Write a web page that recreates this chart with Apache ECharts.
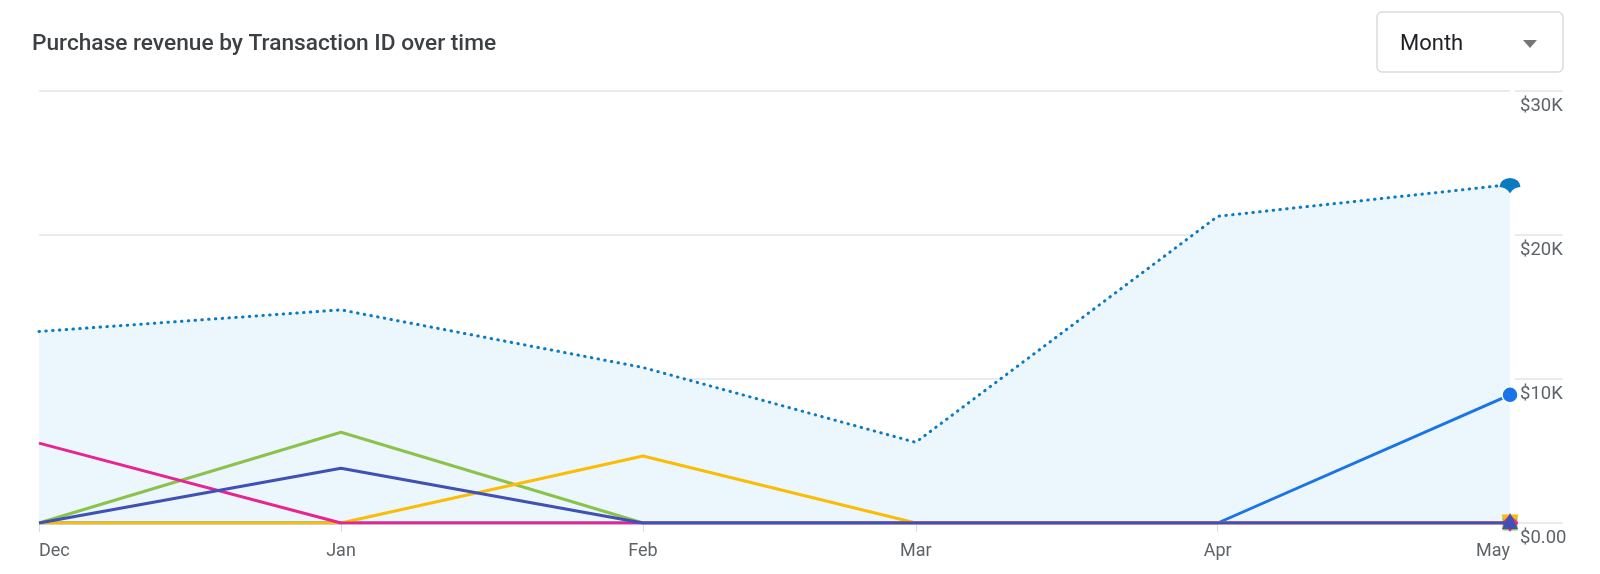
<!DOCTYPE html>
<html>
<head>
<meta charset="utf-8">
<script src="https://cdn.jsdelivr.net/npm/echarts@6/dist/echarts.min.js"></script>
<style>
  html, body { margin: 0; padding: 0; background: #fff; }
  #chart { width: 1600px; height: 574px; }
</style>
</head>
<body>
<div id="chart"></div>
<script>
// ---- data ----
const dates = ['2022-12-01', '2023-01-01', '2023-02-01', '2023-03-01', '2023-04-01', '2023-05-01'];
const monthLabels = ['Dec', 'Jan', 'Feb', 'Mar', 'Apr', 'May'];
const yTickLabels = ['$0.00', '$10K', '$20K', '$30K'];
const totalRevenue = [13300, 14800, 10800, 5600, 21300, 23500];
const txnBlue   = [0, 0, 0, 0, 0, 8900];
const txnGreen  = [0, 6300, 0, 0, 0, 0];
const txnYellow = [0, 0, 4650, 0, 0, 0];
const txnPink   = [5550, 0, 0, 0, 0, 0];
const txnIndigo = [0, 3800, 0, 0, 0, 0];

const chart = echarts.init(document.getElementById('chart'));
const FONT = 'Roboto, "Noto Sans", sans-serif';
const last = dates.length - 1;
const stamps = dates.map(s => Date.parse(s + 'T00:00:00Z'));

function build(values, endSymbol) {
  return values.map((v, i) => {
    const item = { value: [stamps[i], v] };
    if (i === last) Object.assign(item, endSymbol);
    else item.symbol = 'none';
    return item;
  });
}
function lineSeries(name, color, values, endSymbol, z) {
  return {
    name, type: 'line', xAxisIndex: 0, yAxisIndex: 0, z,
    symbol: 'none', showAllSymbol: true,
    lineStyle: { color, width: 3 },
    itemStyle: { color },
    data: build(values, endSymbol)
  };
}

const option = {
  animation: false,
  title: {
    text: 'Purchase revenue by Transaction ID over time',
    left: 32, top: 33, padding: 0,
    textStyle: { fontFamily: FONT, fontSize: 22.7, fontWeight: 500, color: '#3c4043' }
  },
  grid: [
    { left: 39, right: 90, top: 91, bottom: 51 },
    { left: 1515, right: 37, top: 91, bottom: 51 }
  ],
  xAxis: [
    {
      type: 'value', gridIndex: 0,
      min: stamps[0], max: stamps[last],
      axisLine: { show: false },
      axisTick: { show: true, length: 9, lineStyle: { color: '#dadce0', width: 1 }, customValues: stamps },
      splitLine: { show: false },
      axisLabel: {
        customValues: stamps,
        formatter: (val) => {
          const idx = stamps.indexOf(val);
          return idx >= 0 ? monthLabels[idx] : '';
        },
        fontFamily: FONT, fontSize: 18, color: '#5f6368', margin: 19,
        alignMinLabel: 'left', alignMaxLabel: 'right',
        showMinLabel: true, showMaxLabel: true
      }
    },
    { type: 'value', gridIndex: 1, show: false, min: 0, max: 1 }
  ],
  yAxis: [
    {
      type: 'value', gridIndex: 0, min: 0, max: 30000, interval: 10000,
      axisLine: { show: false }, axisTick: { show: false }, axisLabel: { show: false },
      splitLine: { show: true, lineStyle: { color: '#e3e5e8', width: 1.5 } }
    },
    {
      type: 'value', gridIndex: 1, min: 0, max: 30000, interval: 10000, position: 'left',
      axisLine: { show: false }, axisTick: { show: false },
      splitLine: { show: true, lineStyle: { color: '#e3e5e8', width: 1.5 } },
      axisLabel: {
        inside: true, margin: 5, verticalAlign: 'top', padding: [6, 0, 0, 0],
        fontFamily: FONT, fontSize: 18.5, color: '#5f6368',
        formatter: (v) => yTickLabels[Math.round(v / 10000)]
      }
    }
  ],
  graphic: [
    { type: 'rect', shape: { x: 1377, y: 12, width: 186, height: 60, r: 5 },
      style: { fill: '#fff', stroke: '#dadce0', lineWidth: 1.5 } },
    { type: 'text', x: 1400, y: 44,
      style: { text: 'Month', fontFamily: FONT, fontSize: 22, fill: '#202124', verticalAlign: 'middle' } },
    { type: 'polygon', shape: { points: [[1523, 40], [1537, 40], [1530, 48]] },
      style: { fill: '#757575' } }
  ],
  series: [
    {
      name: 'Total', type: 'line', xAxisIndex: 0, yAxisIndex: 0, z: 1,
      symbol: 'none', showAllSymbol: true,
      lineStyle: { color: '#0b7bc1', width: 3, type: [0.5, 6.3], cap: 'round' },
      itemStyle: { color: '#0b7bc1' },
      areaStyle: { color: '#ecf6fd', opacity: 1 },
      data: build(totalRevenue, {
        symbol: 'path://M0,10 A10,10 0 0 1 20,10 Q14,10 10,17 Q6,10 0,10 Z',
        symbolSize: [21, 18], symbolKeepAspect: true, symbolOffset: [0, 1]
      })
    },
    lineSeries('T1', '#1a73e8', txnBlue,
      { symbol: 'circle', symbolSize: 16, itemStyle: { color: '#1a73e8', borderColor: '#fff', borderWidth: 1.5 } }, 2),
    lineSeries('T2', '#8bc34a', txnGreen, { symbol: 'rect', symbolSize: 15 }, 3),
    lineSeries('T3', '#fbbc04', txnYellow, { symbol: 'triangle', symbolRotate: 180, symbolSize: 17 }, 4),
    lineSeries('T4', '#e52592', txnPink, { symbol: 'diamond', symbolSize: 17 }, 5),
    lineSeries('T5', '#3f51b5', txnIndigo, { symbol: 'triangle', symbolSize: 16, symbolOffset: [0, -2] }, 6)
  ]
};
chart.setOption(option);
</script>
</body>
</html>
